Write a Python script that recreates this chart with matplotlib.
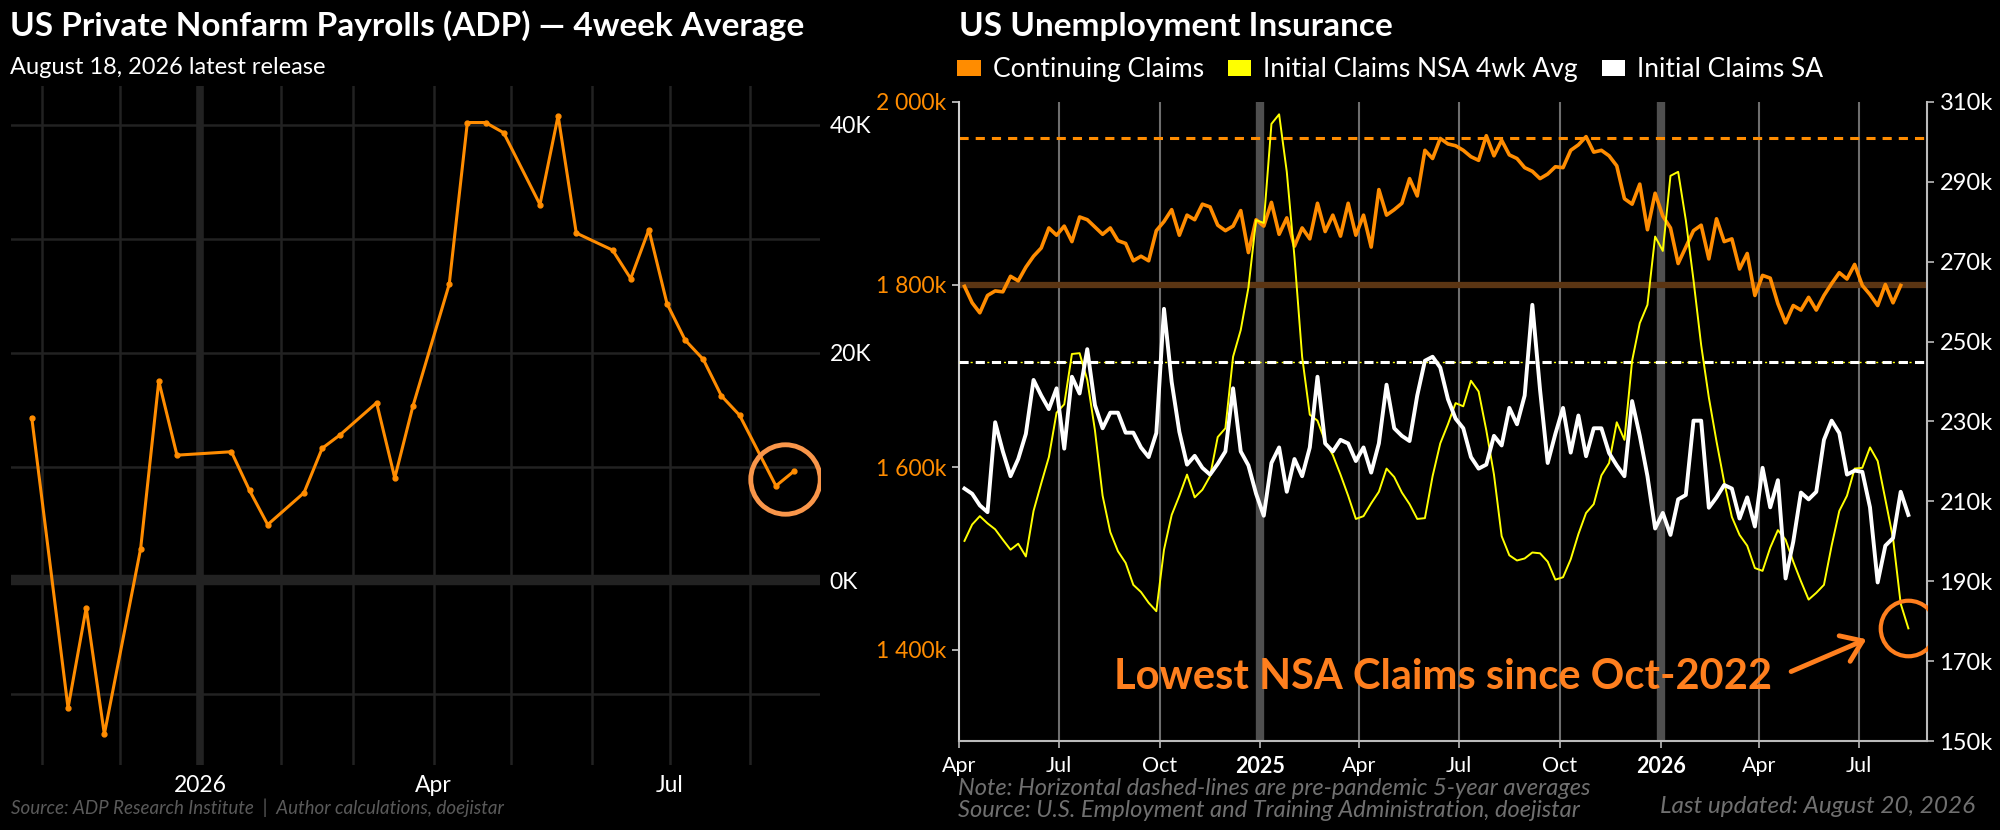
import numpy as np
import pandas as pd
import matplotlib
matplotlib.use("Agg")
import matplotlib.pyplot as plt
import matplotlib.dates as mdates
from matplotlib.ticker import FuncFormatter
from matplotlib.patches import Patch

plt.rcParams['font.family'] = ['Lato', 'DejaVu Sans']

ORANGE = '#FF8C00'
YELLOW = '#FFFF00'
ANN = '#FF7F1E'
CIRCLE_L = '#F9964A'

# ADP weekly pulse, 4-week average (thousands)
adp_dates = pd.to_datetime([
    '2025-10-28', '2025-11-11', '2025-11-18', '2025-11-25', '2025-12-09',
    '2025-12-16', '2025-12-23', '2026-01-13', '2026-01-20', '2026-01-27',
    '2026-02-10', '2026-02-17', '2026-02-24', '2026-03-10', '2026-03-17',
    '2026-03-24', '2026-04-07', '2026-04-14', '2026-04-21', '2026-04-28',
    '2026-05-12', '2026-05-19', '2026-05-26', '2026-06-09', '2026-06-16',
    '2026-06-23', '2026-06-30', '2026-07-07', '2026-07-14', '2026-07-21',
    '2026-07-28', '2026-08-11', '2026-08-18'])
adp_values = [14.3, -11.2, -2.4, -13.5, 2.8,
              17.5, 11.0, 11.3, 7.9, 4.9,
              7.7, 11.6, 12.8, 15.6, 9.0,
              15.3, 26.0, 40.2, 40.2, 39.3,
              33.0, 40.8, 30.5, 29.0, 26.5,
              30.8, 24.3, 21.1, 19.4, 16.2,
              14.5, 8.3, 9.6]

# weekly unemployment insurance claims (thousands), first week ending 2024-04-06
claims_start = '2024-04-06'
continuing_claims = [
    1798, 1780, 1769, 1788, 1793, 1792, 1809, 1804, 1819, 1831, 1840,
    1862, 1854, 1864, 1847, 1874, 1871, 1863, 1855, 1862, 1848,
    1845, 1826, 1831, 1826, 1859, 1869, 1882, 1854, 1876, 1871,
    1888, 1885, 1865, 1859, 1864, 1881, 1835, 1871, 1864, 1890,
    1855, 1873, 1842, 1862, 1850, 1889, 1858, 1876, 1853, 1889,
    1854, 1876, 1841, 1904, 1876, 1882, 1889, 1916, 1897, 1947, 1938,
    1960, 1954, 1952, 1947, 1940, 1936, 1963, 1941, 1958, 1942, 1938,
    1928, 1924, 1916, 1921, 1929, 1928, 1947, 1953, 1962, 1945,
    1947, 1941, 1930, 1894, 1888, 1910, 1860, 1900, 1875, 1862,
    1823, 1841, 1859, 1865, 1828, 1872, 1847, 1850, 1817, 1834,
    1788, 1810, 1807, 1779, 1758, 1777, 1772, 1786, 1772, 1788,
    1801, 1813, 1806, 1822, 1799, 1789, 1777, 1800, 1780, 1799]
initial_nsa_4wk = [
    200.1, 204.2, 206.3, 204.5, 203.0, 200.4, 197.9, 199.4, 196.2, 207.6, 214.5,
    221.1, 232.2, 234.3, 246.9, 247.1, 240.4, 227.8, 211.4, 202.3, 197.5,
    194.6, 189.1, 187.3, 184.6, 182.5, 197.9, 206.6, 211.4, 216.7, 211.0,
    212.9, 216.3, 226.1, 228.3, 246.2, 252.9, 263.5, 280.4, 279.7, 304.5,
    306.9, 292.5, 271.2, 246.2, 231.7, 230.2, 225.0, 221.6, 216.7, 211.4,
    205.6, 206.3, 209.5, 212.4, 218.2, 216.1, 212.2, 209.3, 205.6, 205.8, 216.3,
    224.5, 229.3, 234.6, 233.8, 240.2, 237.5, 227.8, 216.7, 201.3, 196.5, 195.2,
    195.7, 197.2, 197.0, 194.9, 190.4, 191.0, 195.5, 201.8, 207.1, 209.3,
    216.5, 219.6, 229.8, 225.4, 245.2, 254.6, 259.2, 276.3, 272.7, 291.5,
    292.5, 280.4, 265.4, 249.1, 236.0, 225.0, 214.8, 206.1, 201.6, 198.9,
    193.3, 192.6, 198.4, 202.8, 200.4, 194.9, 190.0, 185.4, 187.1, 189.1,
    198.9, 207.6, 211.4, 218.2, 218.4, 223.5, 220.1, 210.5, 200.8, 184.4, 178.2]
initial_sa = [
    213.2, 211.9, 209.0, 207.3, 229.8, 222.5, 216.3, 220.6, 226.9, 240.4, 236.5,
    233.1, 238.3, 223.2, 241.2, 237.0, 248.1, 234.1, 228.3, 232.2, 232.2,
    227.2, 227.2, 223.5, 221.1, 227.1, 258.2, 239.9, 227.4, 219.2, 221.4,
    218.4, 216.7, 219.4, 222.5, 238.3, 222.5, 219.0, 211.9, 206.4, 219.6,
    223.5, 212.4, 220.6, 216.3, 223.5, 241.2, 224.5, 222.5, 225.4, 224.5,
    220.1, 223.5, 217.2, 224.5, 239.2, 228.3, 226.4, 225.1, 236.5, 245.2, 246.2,
    243.5, 235.6, 230.7, 228.3, 221.1, 218.2, 219.2, 226.4, 224.0, 233.4, 229.3,
    236.5, 259.2, 238.0, 219.6, 226.9, 233.4, 222.2, 231.5, 221.3, 228.3,
    228.3, 222.1, 219.0, 216.3, 235.1, 226.4, 216.3, 203.2, 207.1, 201.6,
    210.5, 211.6, 230.2, 230.2, 208.4, 211.0, 214.1, 213.2, 205.7, 211.0,
    203.7, 218.4, 208.5, 215.3, 190.7, 199.9, 212.2, 210.5, 212.4, 225.4,
    230.2, 227.1, 216.7, 217.7, 217.4, 208.5, 189.7, 198.9, 200.8, 212.4, 206.6]

cc_prepandemic = 1960
ic_prepandemic = 245
cc_marker_level = 1800

cc_dates = pd.date_range(claims_start, periods=len(continuing_claims), freq='7D')
ic_dates = pd.date_range(claims_start, periods=len(initial_sa), freq='7D')

fig = plt.figure(figsize=(20, 8.3), dpi=100, facecolor='black')

# ---------------- left: ADP ----------------
ax1 = fig.add_axes([0.0055, 0.0783, 0.4045, 0.818])
ax1.set_facecolor('black')
ax1.set_axisbelow(True)
ax1.plot(adp_dates, adp_values, color=ORANGE, lw=2.2, marker='o', ms=3.5, zorder=4)
ax1.set_xlim(pd.Timestamp('2025-10-20'), pd.Timestamp('2026-08-28'))
ax1.set_ylim(-16.2, 43.4)
ax1.yaxis.tick_right()
ax1.set_yticks([0, 20, 40])
ax1.set_yticks([-10, 10, 30], minor=True)
ax1.yaxis.set_major_formatter(FuncFormatter(lambda v, p: f'{v:.0f}K'))
ax1.xaxis.set_major_locator(mdates.MonthLocator(bymonth=[1, 4, 7]))
ax1.xaxis.set_minor_locator(mdates.MonthLocator())
ax1.xaxis.set_major_formatter(FuncFormatter(
    lambda v, p: str(mdates.num2date(v).year) if mdates.num2date(v).month == 1
    else mdates.num2date(v).strftime('%b')))
ax1.grid(which='both', color='#222222', lw=1.8)
ax1.axhline(0, color='#222222', lw=7.5, zorder=1)
ax1.axvline(pd.Timestamp('2026-01-01'), color='#222222', lw=5.5, zorder=1)
ax1.tick_params(which='both', length=0, colors='white', labelsize=16.5, pad=7)
for s in ax1.spines.values():
    s.set_visible(False)
ax1.plot([adp_dates[-2] + (adp_dates[-1] - adp_dates[-2]) / 2],
         [(adp_values[-1] + adp_values[-2]) / 2],
         marker='o', ms=50, mfc='none', mec=CIRCLE_L, mew=3.5, zorder=5)

# ---------------- right: claims ----------------
ax2 = fig.add_axes([0.4795, 0.1072, 0.484, 0.770])
ax2.set_facecolor('black')
ax2r = ax2.twinx()

quarters = pd.date_range('2024-04-01', '2026-07-01', freq='QS-JAN')
for d in quarters[1:]:
    if d.month == 1:
        ax2.axvline(d, color='#4f4f4f', lw=6, zorder=1)
    else:
        ax2.axvline(d, color='#6e6e6e', lw=1.5, zorder=1)

ax2.axhline(cc_marker_level, color='#5b3513', lw=4.5, zorder=1)
ax2.axhline(cc_prepandemic, color=ORANGE, lw=2.2, dashes=(3, 2.3), zorder=2)
ax2.plot(cc_dates, continuing_claims, color=ORANGE, lw=2.6, zorder=3)

ax2r.axhline(ic_prepandemic, color=YELLOW, lw=1.0, dashes=(1.5, 2.5), zorder=1)
ax2r.axhline(ic_prepandemic, color='white', lw=2.2, dashes=(3, 2.3), zorder=2)
ax2r.plot(ic_dates, initial_nsa_4wk, color=YELLOW, lw=1.4, zorder=3)
ax2r.plot(ic_dates, initial_sa, color='white', lw=2.8, zorder=4)

ax2.set_xlim(pd.Timestamp('2024-04-01'), pd.Timestamp('2026-09-01'))
ax2.set_ylim(1300, 2000)
ax2r.set_ylim(150, 310)

ax2.set_yticks([1400, 1600, 1800, 2000])
ax2.yaxis.set_major_formatter(FuncFormatter(
    lambda v, p: f'{int(v) // 1000} {int(v) % 1000:03d}k'))
ax2r.set_yticks(np.arange(150, 311, 20))
ax2r.yaxis.set_major_formatter(FuncFormatter(lambda v, p: f'{v:.0f}k'))

ax2.set_xticks(quarters)
ax2.set_xticklabels([str(d.year) if d.month == 1 else d.strftime('%b') for d in quarters])
for lbl in ax2.get_xticklabels():
    if lbl.get_text().isdigit():
        lbl.set_fontweight('bold')

ax2.tick_params(axis='y', colors='#cccccc', labelcolor=ORANGE, labelsize=16.5, length=5, width=1.2, pad=4)
ax2.tick_params(axis='x', colors='#bbbbbb', labelcolor='white', labelsize=15.5, length=5, width=1.2, pad=6)
ax2r.tick_params(axis='y', colors='#bbbbbb', labelcolor='white', labelsize=17, length=5, width=1.2, pad=4)

for a in (ax2, ax2r):
    a.spines['top'].set_visible(False)
ax2.spines['right'].set_visible(False)
ax2.spines['left'].set_color('#cfcfcf')
ax2.spines['left'].set_linewidth(1.5)
ax2.spines['bottom'].set_color('#bbbbbb')
ax2.spines['bottom'].set_linewidth(1.5)
ax2r.spines['left'].set_visible(False)
ax2r.spines['bottom'].set_visible(False)
ax2r.spines['right'].set_color('#bbbbbb')
ax2r.spines['right'].set_linewidth(1.5)

# annotation
ax2r.plot([ic_dates[-1]], [initial_nsa_4wk[-1]], marker='o', ms=40, mfc='none',
          mec=ANN, mew=3, zorder=6)
ax2r.text(0.5, 0.10, 'Lowest NSA Claims since Oct-2022', transform=ax2r.transAxes,
          ha='center', va='center', color=ANN, fontsize=30, fontweight='bold', zorder=6)
ax2r.annotate('', xy=(0.940, 0.161), xytext=(0.857, 0.107), xycoords='axes fraction',
              arrowprops=dict(arrowstyle='->,head_length=0.7,head_width=0.5',
                              color=ANN, lw=3.5, mutation_scale=20), zorder=6)

# legend
handles = [Patch(facecolor=ORANGE, label='Continuing Claims'),
           Patch(facecolor=YELLOW, label='Initial Claims NSA 4wk Avg'),
           Patch(facecolor='white', label='Initial Claims SA')]
fig.legend(handles=handles, loc='center left', bbox_to_anchor=(0.4785, 0.9157), ncol=3,
           frameon=False, fontsize=19, labelcolor='white', handlelength=0.9,
           handleheight=0.55, handletextpad=0.45, columnspacing=0.9,
           borderaxespad=0, borderpad=0)

# titles and notes
fig.text(0.005, 0.9566, 'US Private Nonfarm Payrolls (ADP) — 4week Average',
         fontsize=24, fontweight='bold', color='white', va='baseline')
fig.text(0.005, 0.9108, 'August 18, 2026 latest release', fontsize=17,
         color='white', va='baseline')
fig.text(0.4795, 0.9566, 'US Unemployment Insurance', fontsize=24,
         fontweight='bold', color='white', va='baseline')

fig.text(0.0055, 0.0265, 'Source: ADP Research Institute  |  Author calculations, doejistar',
         style='italic', color='#5a5a5a', fontsize=13.5, va='center')
fig.text(0.479, 0.0495, 'Note: Horizontal dashed-lines are pre-pandemic 5-year averages',
         style='italic', color='#707070', fontsize=17, va='center')
fig.text(0.479, 0.0240, 'Source: U.S. Employment and Training Administration, doejistar',
         style='italic', color='#707070', fontsize=17, va='center')
fig.text(0.9875, 0.0289, 'Last updated: August 20, 2026', ha='right',
         style='italic', color='#707070', fontsize=17.5, va='center')

fig.savefig('out.png', dpi=100, facecolor='black')
